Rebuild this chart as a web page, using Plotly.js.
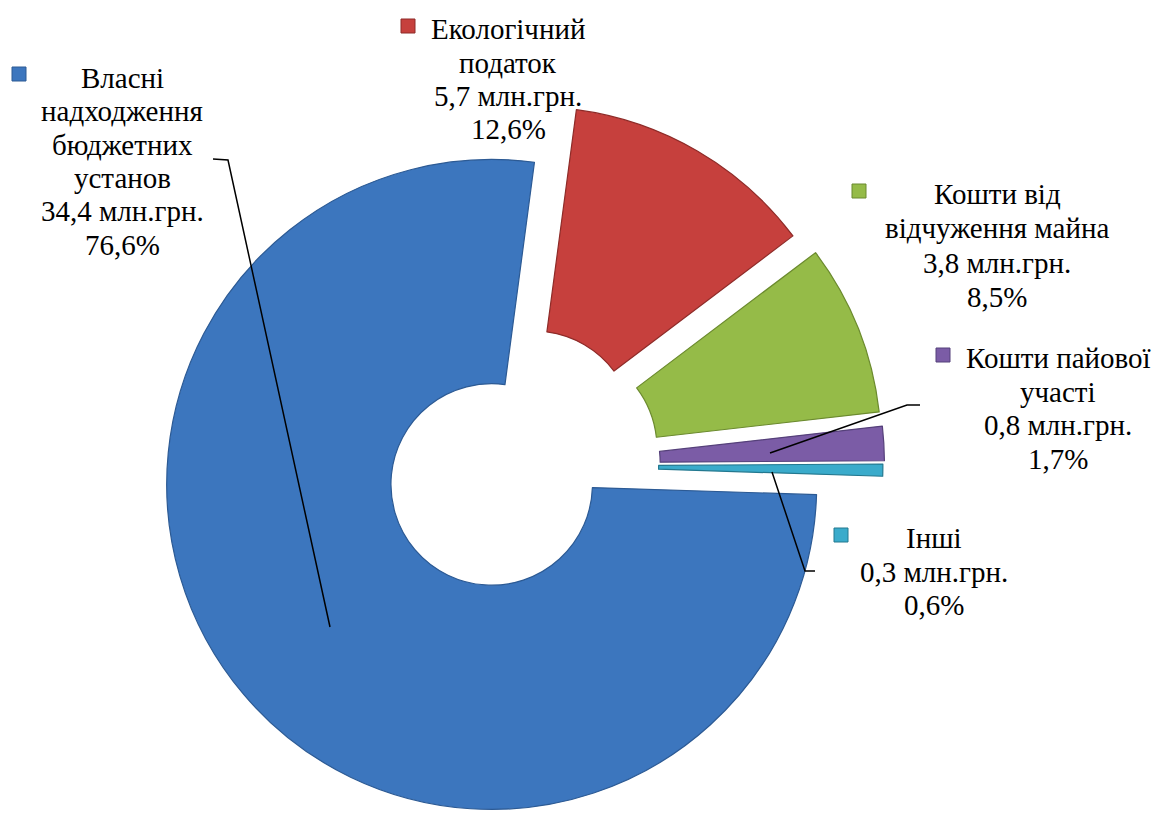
<!DOCTYPE html>
<html>
<head>
<meta charset="utf-8">
<script src="https://cdn.plot.ly/plotly-3.0.1.min.js"></script>
<style>
html, body { margin: 0; padding: 0; overflow: hidden; background: #ffffff; width: 1157px; height: 814px; }
#chart { width: 1157px; height: 860px; }
</style>
</head>
<body>
<div id="chart"></div>
<script>
// ---------- DATA ----------
const categories = [
  "Власні надходження бюджетних установ",
  "Екологічний податок",
  "Кошти від відчуження майна",
  "Кошти пайової участі",
  "Інші"
];
const categoryLines = [
  ["Власні", "надходження", "бюджетних", "установ"],
  ["Екологічний", "податок"],
  ["Кошти від", "відчуження майна"],
  ["Кошти пайової", "участі"],
  ["Інші"]
];
const amounts = [34.4, 5.7, 3.8, 0.8, 0.3];      // млн.грн.
const shares  = [76.6, 12.6, 8.5, 1.7, 0.6];     // %
const unit = "млн.грн.";

// ---------- STYLE / LAYOUT ----------
const W = 1157, H = 860;
const colors    = ["#3C76BE", "#C6403D", "#95BB48", "#7B5CA6", "#3AABCB"];
const edgeCols  = ["#2C5A94", "#8E2B28", "#6B8A2E", "#55407A", "#23788F"];
const pulls     = [0.09, 0.12, 0.14, 0.14, 0.135];
const R = 325, CX = 514, CY = 465.5;          // pie radius / centre in px
const maxPull = Math.max(...pulls);
const half = R * (1 + maxPull);
const FONT = "'Liberation Serif', 'Times New Roman', Times, serif";
const FS = 29;

// label placement (pixels): text centre x, first-line middle y, line step, marker centre
const labelPos = [
  {x: 122,  y: 78,  dy: 33.3, mx: 19,  my: 74},
  {x: 508,  y: 29,  dy: 33.5, mx: 408, my: 26},
  {x: 997,  y: 194, dy: 34.5, mx: 859, my: 191},
  {x: 1058, y: 358, dy: 33.5, mx: 943, my: 355},
  {x: 934,  y: 538, dy: 33.5, mx: 841, my: 535}
];
const leaders = [
  [[213,159],[228,160],[330,627]],
  null,
  null,
  [[770,453],[907,405],[920,405]],
  [[772,472],[805,571],[815,571]]
];

const px = x => x / W;
const py = y => 1 - y / H;
const fmt = v => v.toFixed(1).replace('.', ',');

const annotations = [];
const shapes = [];
categories.forEach((c, i) => {
  const lines = categoryLines[i].concat([fmt(amounts[i]) + " " + unit, fmt(shares[i]) + "%"]);
  const p = labelPos[i];
  lines.forEach((t, k) => {
    annotations.push({
      xref: 'paper', yref: 'paper', x: px(p.x), y: py(p.y + k * p.dy),
      xanchor: 'center', yanchor: 'middle', showarrow: false, text: t,
      font: {family: FONT, size: FS, color: '#000000'}
    });
  });
  const s = 7;
  shapes.push({
    type: 'rect', xref: 'paper', yref: 'paper',
    x0: px(p.mx - s), x1: px(p.mx + s), y0: py(p.my + s), y1: py(p.my - s),
    fillcolor: colors[i], line: {color: edgeCols[i], width: 1}
  });
  if (leaders[i]) {
    const path = leaders[i].map((pt, k) => (k ? 'L' : 'M') + px(pt[0]) + ',' + py(pt[1])).join(' ');
    shapes.push({type: 'path', xref: 'paper', yref: 'paper', path: path,
      line: {color: '#000000', width: 1.5}});
  }
});

const trace = {
  type: 'pie',
  labels: categories,
  values: shares,
  sort: false,
  direction: 'clockwise',
  rotation: 91.8,
  hole: 0.31,
  pull: pulls,
  textinfo: 'none',
  hoverinfo: 'label+value',
  marker: {colors: colors, line: {color: edgeCols, width: 1.2}},
  domain: {
    x: [(CX - half) / W, (CX + half) / W],
    y: [1 - (CY + half) / H, 1 - (CY - half) / H]
  },
  showlegend: false
};

const layout = {
  width: W, height: H,
  margin: {l: 0, r: 0, t: 0, b: 0},
  paper_bgcolor: '#ffffff',
  plot_bgcolor: '#ffffff',
  showlegend: false,
  font: {family: FONT},
  annotations: annotations,
  shapes: shapes
};

Plotly.newPlot('chart', [trace], layout, {displayModeBar: false, staticPlot: true});
</script>
</body>
</html>
